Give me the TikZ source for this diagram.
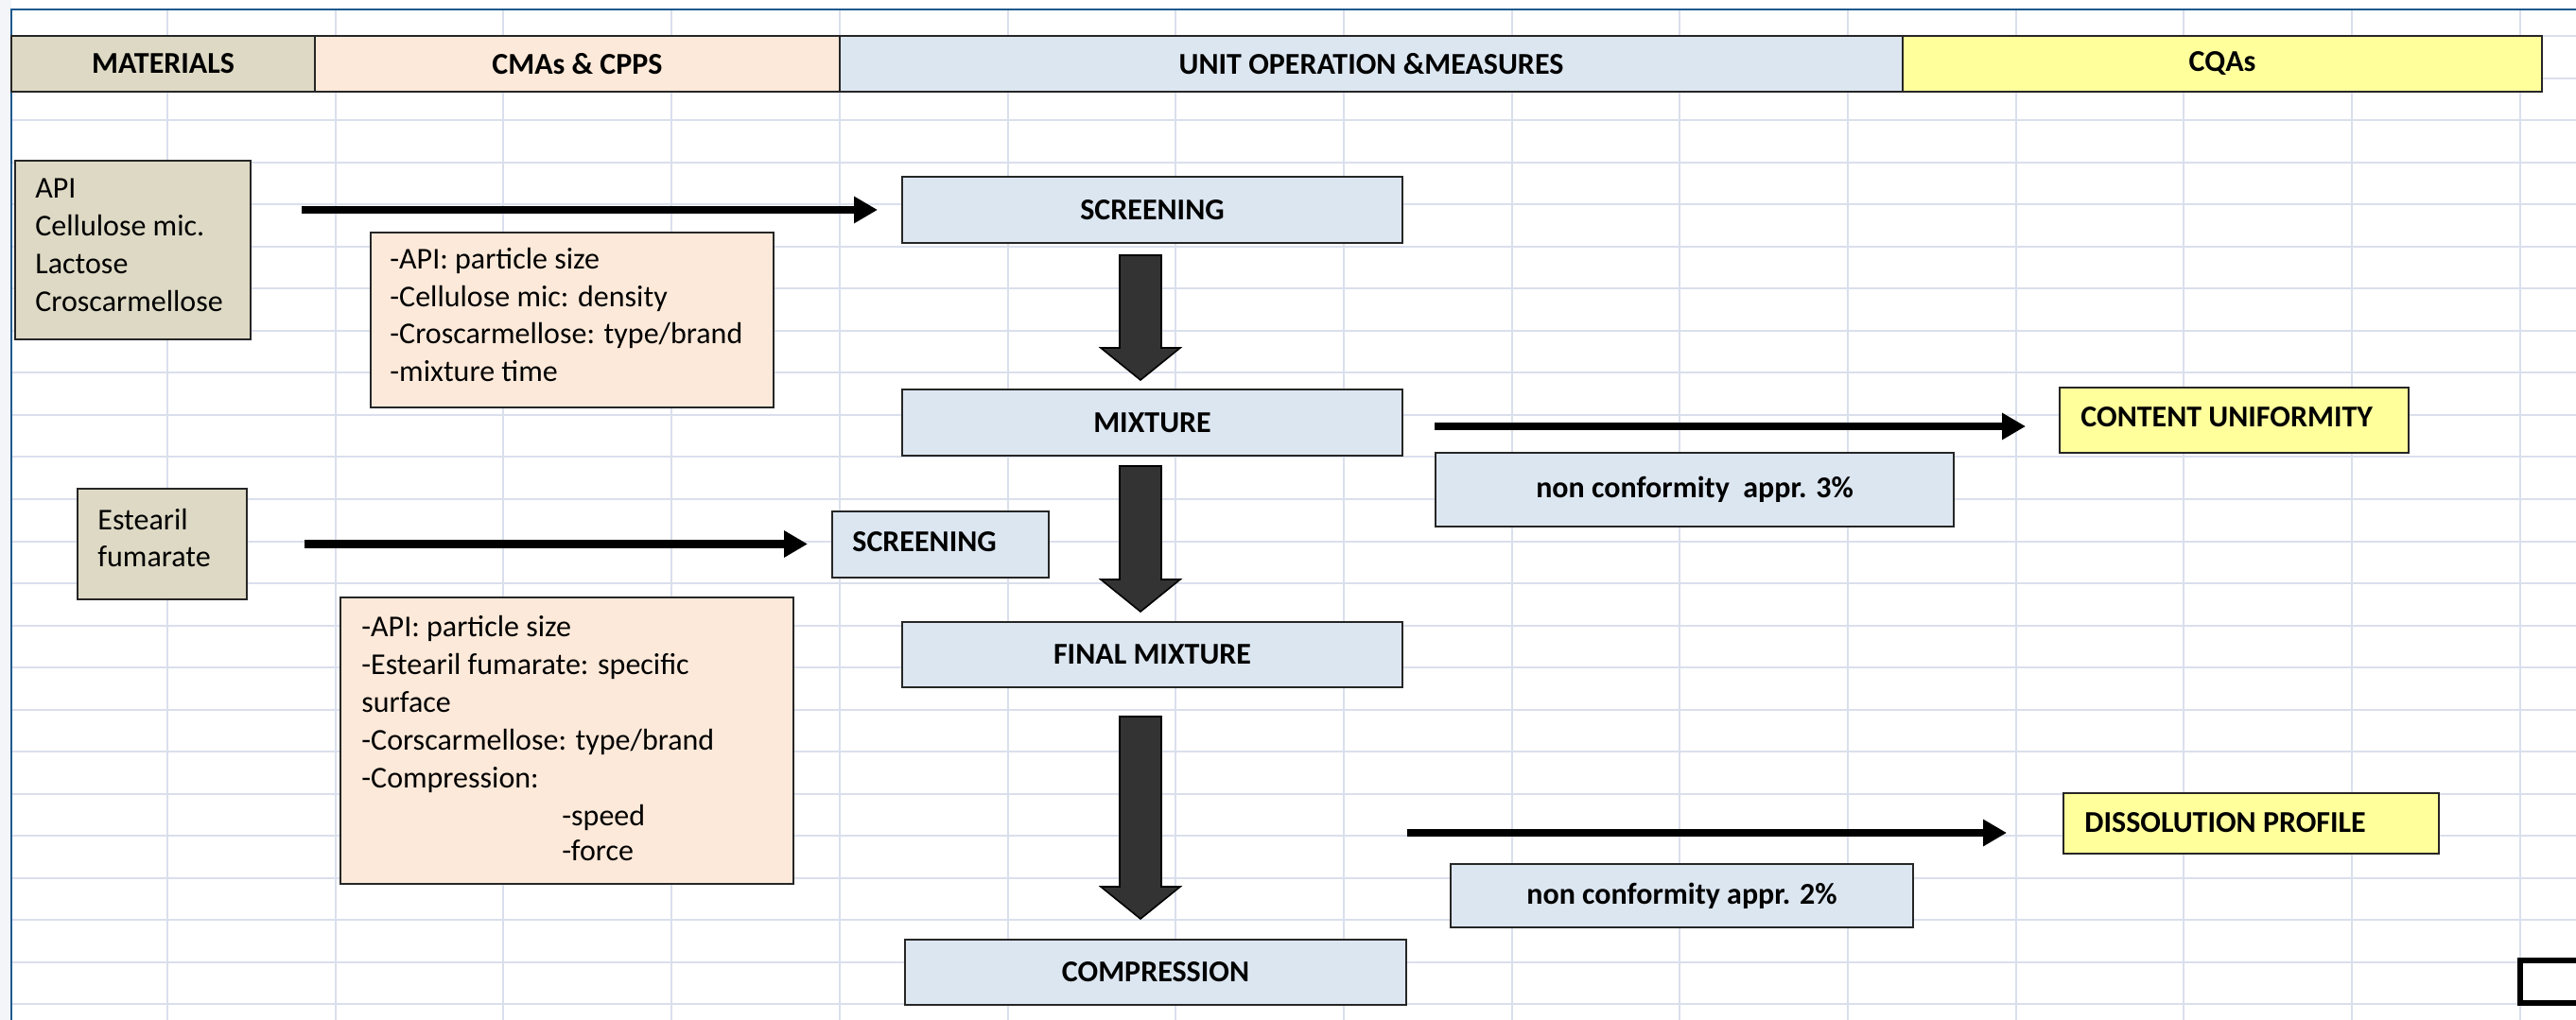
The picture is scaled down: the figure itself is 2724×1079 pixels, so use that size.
\documentclass[tikz,border=0pt]{standalone}
\usepackage{fontspec}
\setmainfont{Carlito}
\usetikzlibrary{arrows.meta,calc}
\definecolor{matfill}{HTML}{DDD9C4}
\definecolor{cmafill}{HTML}{FDE9D9}
\definecolor{uofill}{HTML}{DCE6F1}
\definecolor{cqafill}{HTML}{FFFF9C}
\definecolor{gridc}{HTML}{DADFEC}
\definecolor{framec}{HTML}{1F5A8E}
\definecolor{blockc}{HTML}{333333}
\definecolor{edgec}{HTML}{262626}
\definecolor{stripc}{HTML}{F3F5F9}
\newcommand\mybox[7]{\node[#1, minimum width={(#5-#3)*0.5}, minimum height={(#6-#4)*0.5}] (#2) at ({(#3+#5)/2},{(#4+#6)/2}) {#7};}
\newcommand\blockarrow[2]{\draw[blockarr] let \p1=(#1), \p2=(#2) in
  (\x1-11pt,\y1) -- (\x1+11pt,\y1) -- (\x1+11pt,\y2+17pt) -- (\x1+21pt,\y2+17pt)
  -- (\x1,\y2) -- (\x1-21pt,\y2+17pt) -- (\x1-11pt,\y2+17pt) -- cycle;}
\begin{document}
\begin{tikzpicture}[x=0.5pt,y=-0.5pt,
  every node/.style={font=\fontsize{16}{20}\selectfont},
  boxbase/.style={draw=edgec, line width=1pt, inner sep=1pt, font=\fontsize{16}{20}\selectfont\bfseries},
  hdr/.style={boxbase, line width=1.3pt},
  matbox/.style={boxbase, fill=matfill},
  cmabox/.style={boxbase, fill=cmafill},
  uobox/.style={boxbase, fill=uofill},
  cqabox/.style={boxbase, fill=cqafill},
  txt/.style={inner sep=0, anchor=base west, font=\fontsize{16}{20}\selectfont},
  lbl/.style={inner sep=0, anchor=west, font=\fontsize{16}{20}\selectfont\bfseries},
  gridline/.style={draw=gridc, line width=1pt},
  thinarr/.style={draw=black, line width=4.2pt, -{Triangle[length=12.5pt,width=13.5pt]}},
  blockarr/.style={fill=blockc, draw=black, line width=0.8pt, line join=miter}
]
\useasboundingbox (0,0) rectangle (2724,1079);
\fill[white] (0,0) rectangle (2724,1079);
\fill[stripc] (0,0) rectangle (12,1079);
% spreadsheet grid
\foreach \k in {0,...,23} \draw[gridline] (12,{38.5+44.5*\k}) -- (2724,{38.5+44.5*\k});
\foreach \k in {0,...,14} \draw[gridline] ({177+177.7*\k},10) -- ({177+177.7*\k},1079);
% frame
\draw[framec, line width=1.3pt] (12,1079) -- (12,10) -- (2724,10);
% header
\mybox{hdr, fill=matfill}{mat}{12}{38}{333}{97}{MATERIALS}
\mybox{hdr, fill=cmafill}{cma}{333}{38}{888}{97}{CMAs \& CPPS}
\mybox{hdr, fill=uofill}{uo}{888}{38}{2012}{97}{UNIT OPERATION \&MEASURES}
\mybox{hdr, fill=cqafill}{cqa}{2012}{38}{2688}{97}{CQAs}
% boxes
\mybox{matbox}{api}{16}{170}{265}{359}{}
\mybox{cmabox}{cmaone}{392}{246}{818}{431}{}
\mybox{uobox}{screenone}{954}{187}{1483}{257}{SCREENING}
\mybox{uobox}{mix}{954}{412}{1483}{482}{MIXTURE}
\mybox{matbox}{este}{82}{517}{261}{634}{}
\mybox{uobox}{screentwo}{880}{541}{1109}{611}{}
\mybox{cmabox}{cmatwo}{360}{632}{839}{935}{}
\mybox{uobox}{final}{954}{658}{1483}{727}{FINAL MIXTURE}
\mybox{uobox}{comp}{957}{994}{1487}{1063}{COMPRESSION}
\mybox{cqabox}{cu}{2178}{410}{2547}{479}{}
\mybox{uobox}{ncthree}{1518}{479}{2066}{557}{non conformity\ \ appr. 3\%}
\mybox{cqabox}{dp}{2182}{839}{2579}{903}{}
\mybox{uobox}{nctwo}{1534}{914}{2023}{981}{non conformity appr. 2\%}
% texts
\foreach \t [count=\i] in {API,Cellulose mic.,Lactose,Croscarmellose}
  \node[txt] (apit\i) at (37,{210+40*(\i-1)}) {\t};
\foreach \t [count=\i] in {-API: particle size,-Cellulose mic: density,-Croscarmellose: type/brand,-mixture time}
  \node[txt] (cmaonet\i) at (412,{285+39.5*(\i-1)}) {\t};
\node[txt] (estet1) at (103,560) {Estearil};
\node[txt] (estet2) at (103,599) {fumarate};
\foreach \t [count=\i] in {-API: particle size,-Estearil fumarate: specific,surface,-Corscarmellose: type/brand,-Compression:}
  \node[txt] (cmatwot\i) at (382,{673+40*(\i-1)}) {\t};
\node[txt] (cmatwot6) at (594,873) {-speed};
\node[txt] (cmatwot7) at (594,910) {-force};
\node[lbl] (screentwot) at (901,573) {SCREENING};
\node[lbl] (cut) at (2200,441) {CONTENT UNIFORMITY};
\node[lbl] (dpt) at (2204,870) {DISSOLUTION PROFILE};
% thin arrows
\draw[thinarr, shorten <=26.5pt, shorten >=12.5pt] (api.east |- screenone.west) -- (screenone.west);
\draw[thinarr, shorten <=30pt, shorten >=12.5pt] (este.east) -- (este.east -| screentwo.west);
\draw[thinarr, shorten <=16.5pt, shorten >=17.5pt] ([yshift=-2pt]mix.east) -- ([yshift=-2pt]mix.east -| cu.west);
\coordinate (afour) at (1488,881);
\draw[thinarr, shorten >=29.5pt] (afour) -- (afour -| dp.west);
% block arrows
\coordinate (bonet) at ($(screenone.south)+(-12.5,12)$);
\coordinate (boneb) at ($(mix.north)+(-12.5,-9)$);
\coordinate (btwot) at ($(mix.south)+(-12.5,10)$);
\coordinate (btwob) at ($(final.north)+(-12.5,-10)$);
\coordinate (bthreet) at ($(final.south)+(-12.5,30)$);
\coordinate (bthreeb) at ($(comp.north)+(-15.5,-21)$);
\blockarrow{bonet}{boneb}
\blockarrow{btwot}{btwob}
\blockarrow{bthreet}{bthreeb}
% selected cell marker
\draw[black, line width=3pt] (2730,1016) -- (2665,1016) -- (2665,1061) -- (2730,1061);
\end{tikzpicture}
\end{document}
